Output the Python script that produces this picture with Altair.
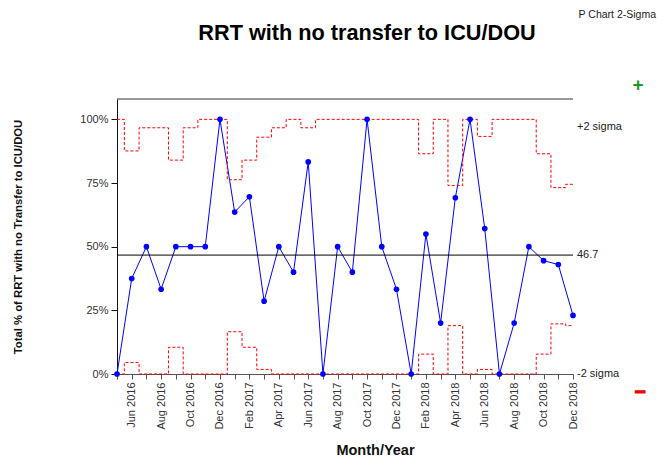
import altair as alt
import pandas as pd

# ---- data ----
months = ["May 2016", "Jun 2016", "Jul 2016", "Aug 2016", "Sep 2016", "Oct 2016",
          "Nov 2016", "Dec 2016", "Jan 2017", "Feb 2017", "Mar 2017", "Apr 2017",
          "May 2017", "Jun 2017", "Jul 2017", "Aug 2017", "Sep 2017", "Oct 2017",
          "Nov 2017", "Dec 2017", "Jan 2018", "Feb 2018", "Mar 2018", "Apr 2018",
          "May 2018", "Jun 2018", "Jul 2018", "Aug 2018", "Sep 2018", "Oct 2018",
          "Nov 2018", "Dec 2018"]
pct = [0, 37.5, 50, 33.3, 50, 50, 50, 100, 63.6, 69.6, 28.6, 50,
       40, 83.3, 0, 50, 40, 100, 50, 33.3, 0, 55.0, 20, 69.2,
       100, 57.1, 0, 20, 50, 44.5, 43.0, 23.0]
ucl = [100, 87.6, 96.7, 96.7, 84.0, 96.7, 100, 100, 76.3, 84.0, 93.0, 96.7,
       100, 96.7, 100, 100, 100, 100, 100, 100, 100, 86.5, 100, 74.0,
       100, 93.3, 100, 100, 100, 86.5, 73.2, 74.5]
lcl = [0, 4.5, 0, 0, 10.5, 0, 0, 0, 16.6, 10.5, 1.8, 0,
       0, 0, 0, 0, 0, 0, 0, 0, 0, 7.8, 0, 19.0,
       0, 1.8, 0, 0, 0, 7.8, 19.7, 19.0]
center = 46.7
y_ticks = [0, 25, 50, 75, 100]
side_labels = ["+2 sigma", "46.7", "-2 sigma"]
side_label_y = [97, 46.7, 0]

TITLE = "RRT with no transfer to ICU/DOU"
CHART_TYPE = "P Chart 2-Sigma"

W, H = 456, 275
YMAX = 108

df = pd.DataFrame({"month": months, "pct": pct, "ucl": ucl, "lcl": lcl})

xscale = alt.Scale(type="point", padding=0)
yscale = alt.Scale(domain=[0, YMAX], nice=False, zero=True)

shown = "[" + ",".join("'" + m + "'" for m in months[1::2]) + "]"
xaxis = alt.Axis(labelExpr=f"indexof({shown}, datum.value) >= 0 ? datum.value : ''",
                 labelAngle=270, labelFontSize=11, labelColor="#333",
                 labelPadding=3, labelOverlap=False,
                 tickSize=5, tickColor="#555", domainColor="#555", grid=False,
                 title="Month/Year", titleFontSize=14.5, titleFontWeight="bold",
                 titleX=258, titleY=80, titleBaseline="alphabetic",
                 titleAlign="center", titleColor="#111")
yaxis = alt.Axis(values=y_ticks, labelExpr="datum.value + '%'",
                 labelFontSize=11, labelColor="#333", labelPadding=3,
                 tickSize=6, tickColor="#111", domainColor="#111", grid=False,
                 title="Total % of RRT with no Transfer to ICU/DOU",
                 titleFontSize=11.3, titleFontWeight="bold", titleAngle=270,
                 titleX=-99, titleY=137.5, titleBaseline="middle",
                 titleAlign="center", titleColor="#111")

base = alt.Chart(df)


def X():
    return alt.X("month:O", sort=months, scale=xscale, axis=xaxis)


def Y(field):
    return alt.Y(field, type="quantitative", scale=yscale, axis=yaxis)


line = base.mark_line(color="#0000ff", strokeWidth=1).encode(x=X(), y=Y("pct"))
points = base.mark_circle(color="#0000ff", size=32, opacity=1).encode(
    x=X(), y=Y("pct"))
ucl_line = base.mark_line(color="#ff0000", strokeWidth=1, strokeDash=[3, 2],
                          interpolate="step").encode(x=X(), y=Y("ucl"))
lcl_line = base.mark_line(color="#ff0000", strokeWidth=1, strokeDash=[3, 2],
                          interpolate="step").encode(x=X(), y=Y("lcl"))

top_rule = alt.Chart(pd.DataFrame({"v": [YMAX]})).mark_rule(
    color="#333", strokeWidth=1.2).encode(y=Y("v"))
center_rule = alt.Chart(pd.DataFrame({"v": [center]})).mark_rule(
    color="#000", strokeWidth=1).encode(y=Y("v"))

side = alt.Chart(pd.DataFrame({"t": side_labels, "v": side_label_y})).mark_text(
    align="left", baseline="middle", fontSize=11, color="#222").encode(
    x=alt.value(W + 4), y=Y("v"), text="t:N")

title_txt = alt.Chart(pd.DataFrame({"t": [TITLE]})).mark_text(
    align="center", baseline="alphabetic", fontSize=21.7, fontWeight="bold",
    color="#000").encode(x=alt.value(250), y=alt.value(-59), text="t:N")
type_txt = alt.Chart(pd.DataFrame({"t": [CHART_TYPE]})).mark_text(
    align="right", baseline="middle", fontSize=10.5, color="#222").encode(
    x=alt.value(539), y=alt.value(-84), text="t:N")
plus_txt = alt.Chart(pd.DataFrame({"t": ["+"]})).mark_text(
    align="center", baseline="middle", fontSize=19, fontWeight="bold",
    color="#1f9a1f").encode(x=alt.value(521), y=alt.value(-14), text="t:N")
minus_txt = alt.Chart(pd.DataFrame({"t": ["\u2212"]})).mark_text(
    align="center", baseline="middle", fontSize=19, fontWeight="bold",
    color="#ee0000", stroke="#ee0000", strokeWidth=1.2).encode(
    x=alt.value(523), y=alt.value(293), text="t:N")

chart = alt.layer(line, top_rule, center_rule, ucl_line, lcl_line, points,
                  side, title_txt, type_txt, plus_txt, minus_txt).properties(
    width=W, height=H,
    autosize=alt.AutoSizeParams(type="none"),
    padding={"left": 109, "top": 91, "right": 84, "bottom": 84},
).configure(font="Liberation Sans").configure_view(stroke=None)

chart.save("out.html", embed_options={"renderer": "svg", "actions": False})
